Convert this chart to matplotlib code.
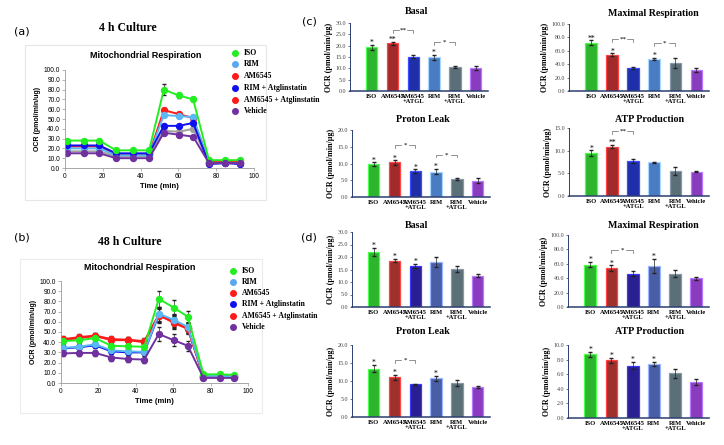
import matplotlib.pyplot as plt
import numpy as np
from matplotlib.lines import Line2D
from matplotlib.patches import Rectangle

W, H = 724, 445

# ---- line chart data (a) 4 h, (b) 48 h ----
times = [1.3, 9.8, 18.2, 27.0, 35.8, 44.5, 52.3, 60.2, 67.8, 76.2, 84.8, 92.7]

iso_4h = [28, 28, 28, 18, 18, 18, 80, 74, 70, 8, 8, 8]
rim_4h = [20, 20, 20, 13, 13, 13, 54, 53, 52, 5, 5, 5]
am_4h = [22, 22, 22, 14, 14, 14, 59, 55, 51, 6, 6, 6]
rimatgl_4h = [23, 23, 23, 15, 15, 15, 43, 43, 46, 4, 5, 4]
amatgl_4h = [17, 17, 17, 12, 12, 12, 38, 37, 40, 6, 6, 6]
veh_4h = [15, 15, 15, 10, 10, 10, 36, 34, 32, 5, 5, 5]
iso_4h_err = [1.5, 1.5, 1.5, 1, 1, 1, 6, 3, 2, 1, 1, 1]
oth_4h_err = [1, 1, 1, 1, 1, 1, 2, 2, 2, 0.5, 0.5, 0.5]

iso_48h = [41, 42, 44, 36.5, 36, 35.5, 82.5, 74, 65, 8.5, 8.5, 8]
am_48h = [43, 45, 46.5, 43, 42.5, 41, 67, 59, 53, 7, 7, 7]
rim_48h = [34.5, 35.5, 38, 32, 31, 30.5, 68, 62, 55, 7, 7, 6.5]
rimatgl_48h = [34, 35, 37, 31, 30, 30, 67, 61, 54, 6, 6, 6]
amatgl_48h = [42, 44, 46, 42, 42, 40, 66, 60, 54, 6, 6, 6]
veh_48h = [29, 29.5, 29.5, 25, 23.5, 23, 48, 42, 36.5, 5, 5, 5]
iso_48h_err = [3, 3, 3, 3, 3, 3, 8, 7, 6, 1, 1, 1]
oth_48h_err = [3, 3, 3, 3, 3, 3, 7, 6, 5, 1, 1, 1]

legend_names = ["ISO", "RIM", "AM6545", "RIM + Atglinstatin", "AM6545 + Atglinstatin", "Vehicle"]
legend_cols = ["#22ee22", "#5aa8f0", "#ff1a1a", "#1010ee", "#ff1a1a", "#7030a0"]

# ---- bar chart data ----
groups = ["ISO", "AM6545", "AM6545\n+ATGL", "RIM", "RIM\n+ATGL", "Vehicle"]

c_basal = [19.2, 21.0, 15.2, 14.9, 10.5, 10.2]
c_basal_err = [1.3, 0.7, 0.8, 1.2, 0.4, 0.8]
c_max = [72, 54, 35, 48, 42, 32]
c_max_err = [4, 2, 1.5, 2, 7, 3]
c_leak = [9.8, 10.3, 7.8, 7.6, 5.4, 4.9]
c_leak_err = [0.6, 0.7, 0.5, 0.8, 0.3, 0.8]
c_atp = [9.5, 10.9, 7.7, 7.4, 5.6, 5.4]
c_atp_err = [0.6, 0.4, 0.4, 0.2, 0.9, 0.1]

d_basal = [21.9, 18.6, 16.4, 18.0, 15.2, 12.5]
d_basal_err = [1.6, 0.5, 0.8, 2.0, 1.1, 0.6]
d_max = [59, 54, 46.5, 57, 46, 40]
d_max_err = [4, 4, 3, 10, 5, 2]
d_leak = [13.4, 11.0, 9.1, 10.8, 9.4, 8.3]
d_leak_err = [1.0, 0.7, 0.2, 0.7, 0.8, 0.3]
d_atp = [8.7, 7.9, 7.15, 7.4, 6.1, 4.9]
d_atp_err = [0.4, 0.3, 0.5, 0.3, 0.6, 0.4]

# significance vs vehicle and brackets (i, j, level, text)
c_basal_sig = ["*", "**", "", "*", "", ""]
c_basal_br = [(1, 2, 27, "**"), (3, 4, 21.5, "*")]
c_max_sig = ["**", "*", "", "*", "", ""]
c_max_br = [(1, 2, 77, "**"), (3, 4, 71, "*")]
c_leak_sig = ["*", "*", "*", "*", "", ""]
c_leak_br = [(1, 2, 15.5, "*"), (3, 4, 12.6, "*")]
c_atp_sig = ["*", "**", "", "", "", ""]
c_atp_br = [(1, 2, 14.3, "**")]
d_basal_sig = ["*", "*", "*", "", "", ""]
d_max_sig = ["*", "*", "", "*", "", ""]
d_max_br = [(1, 2, 79, "*")]
d_leak_sig = ["*", "*", "", "*", "", ""]
d_leak_br = [(1, 2, 15.7, "*")]
d_atp_sig = ["*", "*", "*", "*", "", ""]

c_face = ["#2db52d", "#a32a2a", "#1e2fa8", "#4a7cc4", "#5b6f78", "#8a3cbf"]
c_edge = ["#4cff4c", "#ff4545", "#3a4cff", "#a8d8ff", "#8898a6", "#b878ff"]
d_face = ["#2db52d", "#a0302c", "#2a1f90", "#4a5ea8", "#5b6f78", "#8a3cbf"]
d_edge = ["#4cff4c", "#ff4545", "#3a38ff", "#98b8ff", "#8898a6", "#b878ff"]

SERIF = "Liberation Serif"
SANS = ["Liberation Sans Narrow", "Liberation Sans"]


def px(l, t, r, b):
    return [l / W, 1 - b / H, (r - l) / W, (b - t) / H]


def ftext(x, y, s, **kw):
    fig.text(x / W, 1 - y / H, s, **kw)


fig = plt.figure(figsize=(W / 100, H / 100), dpi=100)

# light frames of the excel chart areas
fig.add_artist(Rectangle((25 / W, 1 - 200 / H), 241 / W, 155 / H, transform=fig.transFigure,
                         fill=False, edgecolor="#e6e6e6", lw=0.8))
fig.add_artist(Rectangle((20 / W, 1 - 413 / H), 242 / W, 154 / H, transform=fig.transFigure,
                         fill=False, edgecolor="#ececec", lw=0.8))


def line_panel(rect, series, title_xy):
    ax = fig.add_axes(rect)
    for vals, err, col in series:
        ax.errorbar(times, vals, yerr=err, color=col, marker="o", markersize=4.3, lw=1.4,
                    ecolor="#222222", elinewidth=0.5, capsize=1.2)
    ax.set_xlim(0, 100)
    ax.set_ylim(0, 100)
    ax.set_xticks(np.arange(0, 101, 20))
    ax.set_yticks(np.arange(0, 101, 10))
    ax.set_yticklabels([f"{v:.1f}" for v in np.arange(0, 101, 10)])
    for s in ["top", "right"]:
        ax.spines[s].set_visible(False)
    for s in ["left", "bottom"]:
        ax.spines[s].set_color("#9a9a9a")
        ax.spines[s].set_linewidth(0.6)
    ax.tick_params(labelsize=4.8, length=2, width=0.5, color="#9a9a9a", pad=1.5)
    for lab in ax.get_xticklabels() + ax.get_yticklabels():
        lab.set_family(SANS)
    ax.set_xlabel("Time (min)", fontsize=5.5, fontweight="bold", family=SANS, labelpad=2)
    ax.set_ylabel("OCR (pmol/min/ug)", fontsize=5, fontweight="bold", family=SANS, labelpad=2)
    ftext(title_xy[0], title_xy[1], "Mitochondrial Respiration", ha="center", va="center",
          fontsize=6.5, fontweight="bold", family=SANS)
    return ax


line_panel(px(65, 70, 254, 168),
           [(amatgl_4h, oth_4h_err, "#a0a0a0"), (am_4h, oth_4h_err, "#ff1a1a"),
            (rim_4h, oth_4h_err, "#5ab8f5"), (rimatgl_4h, oth_4h_err, "#1010ee"),
            (iso_4h, iso_4h_err, "#22ee22"), (veh_4h, oth_4h_err, "#7030a0")],
           (146, 56))
line_panel(px(61, 281, 248, 383),
           [(rimatgl_48h, oth_48h_err, "#1010ee"), (amatgl_48h, oth_48h_err, "#ff1a1a"),
            (am_48h, oth_48h_err, "#ff1a1a"), (rim_48h, oth_48h_err, "#5ab8f5"),
            (iso_48h, iso_48h_err, "#22ee22"), (veh_48h, oth_48h_err, "#7030a0")],
           (140, 268))


def legend(x0, y0, dy):
    for k, (name, col) in enumerate(zip(legend_names, legend_cols)):
        y = y0 + k * dy
        fig.add_artist(Line2D([x0 / W], [1 - y / H], marker="o", markersize=4, color=col,
                              lw=0, transform=fig.transFigure))
        ftext(x0 + 9, y, name, ha="left", va="center", fontsize=5.6, fontweight="bold", family=SERIF)


legend(235, 52.7, 11.7)
legend(233, 270.7, 11.2)

ftext(128, 28, "4 h Culture", ha="center", va="center", fontsize=8.5, fontweight="bold", family=SERIF)
ftext(130, 242, "48 h Culture", ha="center", va="center", fontsize=8.5, fontweight="bold", family=SERIF)
ftext(22, 31, "(a)", ha="center", va="center", fontsize=8)
ftext(22, 238, "(b)", ha="center", va="center", fontsize=8)
ftext(309, 22, "(c)", ha="center", va="center", fontsize=8)
ftext(309, 238, "(d)", ha="center", va="center", fontsize=8)


def bar_panel(rect, vals, err, ymax, step, sig, brackets, faces, edges, title, title_xy):
    ax = fig.add_axes(rect)
    x = np.arange(len(groups))
    ax.bar(x, vals, width=0.55, color=faces, edgecolor=edges, linewidth=0.9, zorder=2)
    ax.errorbar(x, vals, yerr=err, fmt="none", ecolor="#222222", elinewidth=0.5, capsize=1.3, zorder=3)
    off = ymax * 0.025
    for xi, v, e, s in zip(x, vals, err, sig):
        if s:
            ax.text(xi, v + e + off, s, ha="center", va="center", fontsize=5.5, family=SERIF)
    d = ymax * 0.04
    for i, j, lev, s in brackets:
        xm = (i + j) / 2
        g = 0.2
        ax.plot([i, i, xm - g], [lev - d, lev, lev], color="#666666", lw=0.5)
        ax.plot([xm + g, j, j], [lev, lev, lev - d], color="#666666", lw=0.5)
        ax.text(xm, lev, s, ha="center", va="center", fontsize=5, family=SERIF)
    ax.set_xlim(-1.05, 5.6)
    ax.set_ylim(0, ymax)
    ticks = np.arange(0, ymax + step / 2, step)
    ax.set_yticks(ticks)
    ax.set_yticklabels([f"{t:.1f}" for t in ticks], fontsize=4.3, family=SERIF, color="#444444")
    ax.set_xticks(x)
    ax.set_xticklabels(groups, fontsize=4.7, fontweight="bold", family=SERIF, linespacing=1.0)
    ax.tick_params(axis="x", length=0, pad=2.5)
    ax.tick_params(axis="y", length=1.5, width=0.5, pad=1, color="#2c3e70")
    for s in ["top", "right"]:
        ax.spines[s].set_visible(False)
    ax.spines["left"].set_color("#2c3e70")
    ax.spines["left"].set_linewidth(0.7)
    ax.spines["bottom"].set_color("#2c3e70")
    ax.spines["bottom"].set_linewidth(1.1)
    ax.set_ylabel("OCR (pmol/min/μg)", fontsize=5.8, fontweight="bold", family=SERIF, labelpad=2)
    ftext(title_xy[0], title_xy[1], title, ha="center", va="center", fontsize=7.2,
          fontweight="bold", family=SERIF)


bar_panel(px(350, 23, 488, 91), c_basal, c_basal_err, 30, 5, c_basal_sig, c_basal_br,
          c_face, c_edge, "Basal", (417, 12))
bar_panel(px(569, 24, 709, 91), c_max, c_max_err, 100, 20, c_max_sig, c_max_br,
          c_face, c_edge, "Maximal Respiration", (653, 13))
bar_panel(px(352, 130, 490, 197), c_leak, c_leak_err, 20, 5, c_leak_sig, c_leak_br,
          c_face, c_edge, "Proton Leak", (423, 119))
bar_panel(px(569, 128, 709, 196), c_atp, c_atp_err, 15, 5, c_atp_sig, c_atp_br,
          c_face, c_edge, "ATP Production", (650, 119))

bar_panel(px(352, 232, 490, 307), d_basal, d_basal_err, 30, 5, d_basal_sig, [],
          d_face, d_edge, "Basal", (417, 225))
bar_panel(px(568, 235, 709, 307), d_max, d_max_err, 100, 20, d_max_sig, d_max_br,
          d_face, d_edge, "Maximal Respiration", (653, 226))
bar_panel(px(352, 345, 490, 417), d_leak, d_leak_err, 20, 5, d_leak_sig, d_leak_br,
          d_face, d_edge, "Proton Leak", (423, 332))
bar_panel(px(568, 345, 709, 418), d_atp, d_atp_err, 10, 2, d_atp_sig, [],
          d_face, d_edge, "ATP Production", (650, 332))

fig.savefig("out.png", dpi=100)
